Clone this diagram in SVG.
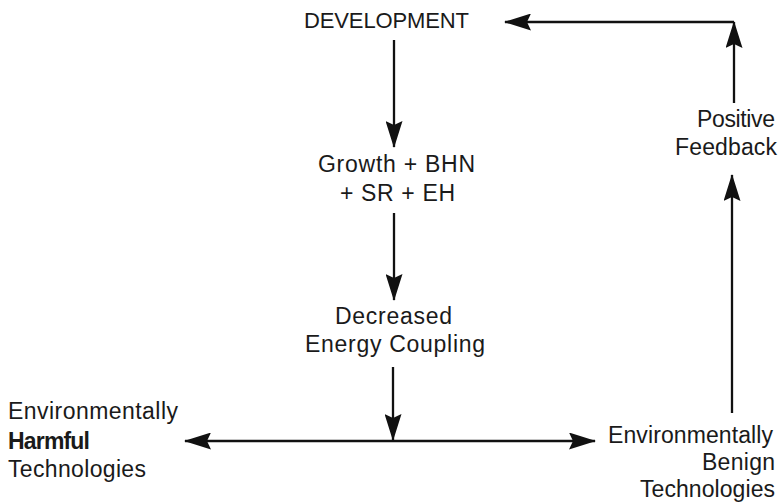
<svg xmlns="http://www.w3.org/2000/svg" width="779" height="504" viewBox="0 0 779 504">
<defs>
<marker id="ah" viewBox="0 0 27 17" refX="26" refY="8.5" markerWidth="27" markerHeight="17" markerUnits="userSpaceOnUse" orient="auto-start-reverse">
<path d="M0,0 L27,8.5 L0,17 L4,8.5 Z" fill="#111"/>
</marker>
<style>
text{font-family:"Liberation Sans",Arial,Helvetica,sans-serif;font-size:23px;fill:#1a1a1a}
.c{stroke:#111;stroke-width:2.3;fill:none;stroke-linejoin:round}
.b{font-weight:bold}
.t{font-size:22px}
</style>
</defs>
<rect width="779" height="504" fill="#fff"/>
<g id="connectors">
<line class="c" x1="394" y1="40" x2="394" y2="147" marker-end="url(#ah)"/>
<line class="c" x1="394" y1="213" x2="394" y2="300" marker-end="url(#ah)"/>
<line class="c" x1="393" y1="367" x2="393" y2="440" marker-end="url(#ah)"/>
<line class="c" x1="185" y1="441" x2="595" y2="441" marker-start="url(#ah)" marker-end="url(#ah)"/>
<line class="c" x1="732" y1="413" x2="732" y2="175" marker-end="url(#ah)"/>
<line class="c" x1="734" y1="103" x2="734" y2="22" marker-end="url(#ah)"/>
<line class="c" x1="734" y1="22" x2="505" y2="22" marker-end="url(#ah)"/>
</g>
<g id="development">
<text class="t" x="304" y="28" textLength="165" lengthAdjust="spacing">DEVELOPMENT</text>
</g>
<g id="growth">
<text x="318" y="172" textLength="157" lengthAdjust="spacing">Growth + BHN</text>
<text x="340" y="201" textLength="115" lengthAdjust="spacing">+ SR + EH</text>
</g>
<g id="decreased">
<text x="335" y="324" textLength="117" lengthAdjust="spacing">Decreased</text>
<text x="305" y="352" textLength="180" lengthAdjust="spacing">Energy Coupling</text>
</g>
<g id="harmful">
<text x="8" y="419" textLength="170" lengthAdjust="spacing">Environmentally</text>
<text x="8" y="449" class="b" textLength="82" lengthAdjust="spacing">Harmful</text>
<text x="8" y="477" textLength="138" lengthAdjust="spacing">Technologies</text>
</g>
<g id="benign">
<text x="608" y="443" textLength="165" lengthAdjust="spacing">Environmentally</text>
<text x="702" y="470" textLength="73" lengthAdjust="spacing">Benign</text>
<text x="640" y="497" textLength="135" lengthAdjust="spacing">Technologies</text>
</g>
<g id="feedback">
<text x="697" y="127" textLength="78" lengthAdjust="spacing">Positive</text>
<text x="675" y="155" textLength="102" lengthAdjust="spacing">Feedback</text>
</g>
</svg>
